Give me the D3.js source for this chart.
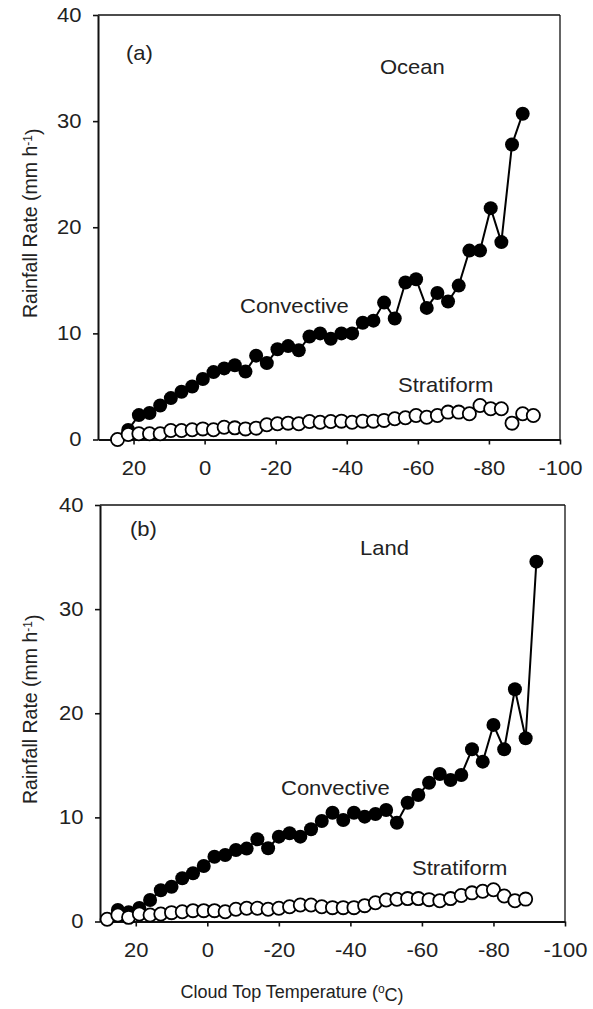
<!DOCTYPE html>
<html>
<head>
<meta charset="utf-8">
<script src="https://cdn.jsdelivr.net/npm/d3@7"></script>
<style>
body{margin:0;background:#fff;}
text{font-family:"Liberation Sans",Arial,sans-serif;fill:#222;}
</style>
</head>
<body>
<svg width="593" height="1009"></svg>
<script>
// valeurs
var xTicks = [20, 0, -20, -40, -60, -80, -100];
var yTicks = [0, 10, 20, 30, 40];

// (a) Ocean
var oceanConvT = [21.5, 18.5, 15.5, 12.5, 9.5, 6.5, 3.5, 0.5, -2.5, -5.5, -8.5, -11.5, -14.5, -17.5, -20.5, -23.5, -26.5, -29.5, -32.5, -35.5, -38.5, -41.5, -44.5, -47.5, -50.5, -53.5, -56.5, -59.5, -62.5, -65.5, -68.5, -71.5, -74.5, -77.5, -80.5, -83.5, -86.5, -89.5];
var oceanConv = [0.9, 2.3, 2.5, 3.2, 3.9, 4.5, 5.0, 5.7, 6.35, 6.7, 7.0, 6.4, 7.9, 7.2, 8.5, 8.8, 8.4, 9.7, 10.0, 9.5, 10.0, 10.0, 11.0, 11.2, 12.9, 11.4, 14.8, 15.1, 12.4, 13.8, 13.0, 14.5, 17.8, 17.8, 21.8, 18.6, 27.8, 30.7];
var oceanStratT = [24.5, 21.5, 18.5, 15.5, 12.5, 9.5, 6.5, 3.5, 0.5, -2.5, -5.5, -8.5, -11.5, -14.5, -17.5, -20.5, -23.5, -26.5, -29.5, -32.5, -35.5, -38.5, -41.5, -44.5, -47.5, -50.5, -53.5, -56.5, -59.5, -62.5, -65.5, -68.5, -71.5, -74.5, -77.5, -80.5, -83.5, -86.5, -89.5, -92.5];
var oceanStrat = [0.0, 0.47, 0.54, 0.54, 0.54, 0.85, 0.85, 0.92, 1.0, 0.92, 1.16, 1.1, 1.0, 1.07, 1.39, 1.48, 1.54, 1.48, 1.7, 1.63, 1.7, 1.73, 1.63, 1.73, 1.73, 1.8, 1.95, 2.05, 2.26, 2.1, 2.26, 2.58, 2.58, 2.42, 3.2, 2.9, 2.9, 1.54, 2.42, 2.26];

// (b) Land
var landConvT = [25, 22, 19, 16, 13, 10, 7, 4, 1, -2, -5, -8, -11, -14, -17, -20, -23, -26, -29, -32, -35, -38, -41, -44, -47, -50, -53, -56, -59, -62, -65, -68, -71, -74, -77, -80, -83, -86, -89, -92];
var landConv = [1.1, 0.9, 1.3, 2.07, 3.0, 3.34, 4.15, 4.63, 5.33, 6.22, 6.39, 6.87, 7.0, 7.9, 7.03, 8.15, 8.47, 8.15, 8.86, 9.65, 10.45, 9.75, 10.45, 10.07, 10.33, 10.71, 9.49, 11.4, 12.15, 13.33, 14.17, 13.59, 14.07, 16.54, 15.35, 18.88, 16.54, 22.3, 17.6, 34.56];
var landStratT = [28, 25, 22, 19, 16, 13, 10, 7, 4, 1, -2, -5, -8, -11, -14, -17, -20, -23, -26, -29, -32, -35, -38, -41, -44, -47, -50, -53, -56, -59, -62, -65, -68, -71, -74, -77, -80, -83, -86, -89];
var landStrat = [0.21, 0.62, 0.4, 0.72, 0.62, 0.72, 0.85, 0.94, 1.04, 1.04, 1.04, 0.94, 1.17, 1.27, 1.27, 1.17, 1.27, 1.42, 1.58, 1.58, 1.42, 1.33, 1.33, 1.33, 1.52, 1.8, 2.07, 2.13, 2.2, 2.2, 2.1, 2.0, 2.2, 2.5, 2.75, 2.9, 3.05, 2.45, 2.0, 2.15];

var svg = d3.select("svg");
var SX = "scale(1.1,1)";

// texte legerement etire comme sur l'image
function label(txt, x, y, size)
{
	return svg.append("text")
		.attr("transform", "translate(" + x + "," + y + ") " + SX)
		.style("font-size", size + "px")
		.text(txt);
}

function drawPanel(p)
{
	var x = d3.scaleLinear().domain([30, -100]).range([p.left, p.right]);
	var y = d3.scaleLinear().domain([0, 40]).range([p.bottom, p.top]);

	//cadre haut et droite
	svg.append("line").attr("x1", p.left).attr("x2", p.right).attr("y1", p.top).attr("y2", p.top)
		.attr("stroke", "#111").attr("stroke-width", 1.3);
	svg.append("line").attr("x1", p.right).attr("x2", p.right).attr("y1", p.top).attr("y2", p.bottom)
		.attr("stroke", "#111").attr("stroke-width", 1.3);

	//axes
	var ax = svg.append("g").attr("transform", "translate(0," + p.bottom + ")")
		.call(d3.axisBottom(x).tickValues(xTicks).tickSize(5).tickPadding(16).tickSizeOuter(0)
			.tickFormat(function(d){ return String(d); }));
	var ay = svg.append("g").attr("transform", "translate(" + p.left + ",0)")
		.call(d3.axisLeft(y).tickValues(yTicks).tickSize(5).tickPadding(10).tickSizeOuter(0)
			.tickFormat(function(d){ return String(d); }));
	[ax, ay].forEach(function(a)
	{
		a.select(".domain").attr("stroke", "#111").attr("stroke-width", 2);
		a.selectAll(".tick line").attr("stroke", "#111").attr("stroke-width", 1.6);
		a.selectAll(".tick text").style("font-size", "20px").style("font-family", "Liberation Sans, Arial, sans-serif")
			.attr("fill", "#222").attr("transform", SX);
	});

	//convectif : ligne + points pleins
	var conv = d3.zip(p.convT, p.conv);
	svg.append("path").datum(conv)
		.attr("fill", "none").attr("stroke", "#000").attr("stroke-width", 2)
		.attr("d", d3.line().x(function(d){ return x(d[0]); }).y(function(d){ return y(d[1]); }));
	svg.append("g").selectAll("circle").data(conv).enter().append("circle")
		.attr("cx", function(d){ return x(d[0]); })
		.attr("cy", function(d){ return y(d[1]); })
		.attr("r", 7).attr("fill", "#000");

	//stratiforme : points vides
	var strat = d3.zip(p.stratT, p.strat);
	svg.append("g").selectAll("circle").data(strat).enter().append("circle")
		.attr("cx", function(d){ return x(d[0]); })
		.attr("cy", function(d){ return y(d[1]); })
		.attr("r", 6.6).attr("fill", "#fff").attr("stroke", "#000").attr("stroke-width", 1.8);

	//textes
	label(p.tag, p.tagX, p.tagY, 20);
	label(p.name, p.nameX, p.nameY, 20);
	label("Convective", p.convX, p.convY, 20);
	label("Stratiform", p.stratX, p.stratY, 20);

	//titre axe y
	var t = svg.append("text")
		.attr("transform", "translate(37," + ((p.top + p.bottom) / 2 - 4) + ") rotate(-90)")
		.attr("text-anchor", "middle")
		.style("font-size", "19.5px");
	t.append("tspan").text("Rainfall Rate (mm h");
	t.append("tspan").attr("dy", "-0.45em").style("font-size", "12px").text("-1");
	t.append("tspan").attr("dy", "0.45em").text(")");
}

drawPanel({left: 98, right: 560, top: 15, bottom: 439.5,
	convT: oceanConvT, conv: oceanConv, stratT: oceanStratT, strat: oceanStrat,
	tag: "(a)", tagX: 126, tagY: 60, name: "Ocean", nameX: 380, nameY: 74,
	convX: 240, convY: 313, stratX: 398, stratY: 392});

drawPanel({left: 100, right: 565, top: 505, bottom: 921.5,
	convT: landConvT, conv: landConv, stratT: landStratT, strat: landStrat,
	tag: "(b)", tagX: 130, tagY: 536, name: "Land", nameX: 360, nameY: 555,
	convX: 281, convY: 795, stratX: 412, stratY: 875});

//titre axe x
var tx = svg.append("text")
	.attr("transform", "translate(292,998)")
	.attr("text-anchor", "middle")
	.style("font-size", "18px");
tx.append("tspan").text("Cloud Top Temperature (");
tx.append("tspan").attr("dy", "-0.45em").style("font-size", "12px").text("o");
tx.append("tspan").attr("dy", "0.45em").text("C)");
</script>
</body>
</html>
